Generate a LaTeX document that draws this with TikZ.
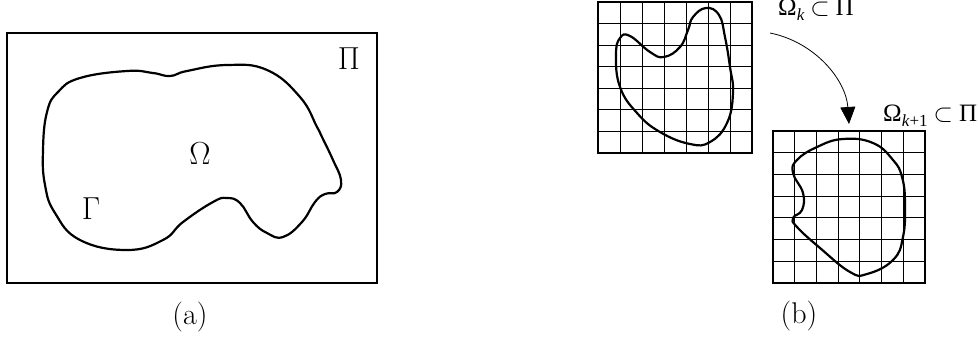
\documentclass[tikz,border=0pt]{standalone}
\usepackage{graphicx}
\usepackage{fontspec}
\newfontfamily\tms{Liberation Serif}
\usetikzlibrary{arrows.meta}
\newcommand{\bigsym}[1]{\scalebox{1.28}{$#1$}}
\begin{document}
\begin{tikzpicture}[x=1pt,y=-1pt,
  frame/.style={line width=2.2pt},
  blob/.style={line width=2.2pt,line join=round},
  gridline/.style={line width=1pt},
  bigtxt/.style={inner sep=0pt,font=\fontsize{24}{29}\selectfont},
  labtxt/.style={inner sep=0pt,font=\fontsize{30}{36}\selectfont},
  smalltxt/.style={inner sep=0pt,font=\fontsize{25}{30}\selectfont}]
\useasboundingbox (0,0) rectangle (978,338);
% ---------- (a)
\draw[frame] (7,33) rectangle (377,283);
\draw[blob] plot[smooth cycle,tension=0.75] coordinates {
 (43,150) (47,112) (58,92) (80,78) (127,71) (153,73) (170,76) (187,71) (227,65)
 (267,70) (300,97) (317,127) (322,137) (333,160) (341,180) (337,192)
 (325,194) (315,202) (302,222) (283,237) (267,233) (253,222) (240,203)
 (227,198) (213,202) (183,222) (163,240) (127,250) (80,240) (55,213) (45,185)};
\node[bigtxt] (om) at (200,154) {\bigsym{\Omega}};
\node[bigtxt] (pi) at (349,59) {\bigsym{\Pi}};
\node[bigtxt] (ga) at (91,209) {\bigsym{\Gamma}};
\node[labtxt] (la) at (190,317) {(a)};
% ---------- (b) grid 1
\foreach \i in {1,...,6} {
  \draw[gridline] ({598+\i*22},2) -- ({598+\i*22},153);
  \draw[gridline] (598,{2+\i*151/7}) -- (752,{2+\i*151/7});
}
\draw[frame] (598,2) rectangle (752,153);
\draw[blob] plot[smooth cycle,tension=0.75] coordinates {
 (706,8) (693,17) (688,30) (680,47) (664,57) (650,52) (630,36) (620,38)
 (616,55) (620,87) (637,113) (660,132) (690,144) (710,142) (727,123)
 (733,93) (730,67) (725,37) (719,15)};
% grid 2
\foreach \i in {1,...,6} {
  \draw[gridline] ({773+\i*152/7},131) -- ({773+\i*152/7},283);
  \draw[gridline] (773,{131+\i*152/7}) -- (925,{131+\i*152/7});
}
\draw[frame] (773,131) rectangle (925,283);
\draw[blob] plot[smooth cycle,tension=0.75] coordinates {
 (843,139) (873,143) (893,160) (902,177) (905,203) (903,237) (893,260)
 (867,274) (850,272) (820,248) (797,227) (793,218) (802,210) (803,193)
 (793,173) (797,160) (817,147)};
% labels
\node[smalltxt,anchor=base west] (lk) at (778,15)
  {\tms Ω\raisebox{-5pt}{\fontsize{17}{20}\selectfont\itshape k}\hspace{6pt}$\subset$\hspace{6pt}Π};
\node[smalltxt,anchor=base west] (lk1) at (883,121)
  {\tms Ω\raisebox{-5pt}{\fontsize{17}{20}\selectfont\itshape k\/\upshape+1}\hspace{6pt}$\subset$\hspace{6pt}Π};
\node[labtxt] (lb) at (799,316) {(b)};
% arrow
\coordinate (arrS) at (770,33);
\coordinate (arrE) at (849,124);
\draw[line width=0.8pt,-{Triangle[length=17pt,width=15pt]}] (arrS) .. controls (815,42) and (846,80) .. (arrE);
\end{tikzpicture}
\end{document}
